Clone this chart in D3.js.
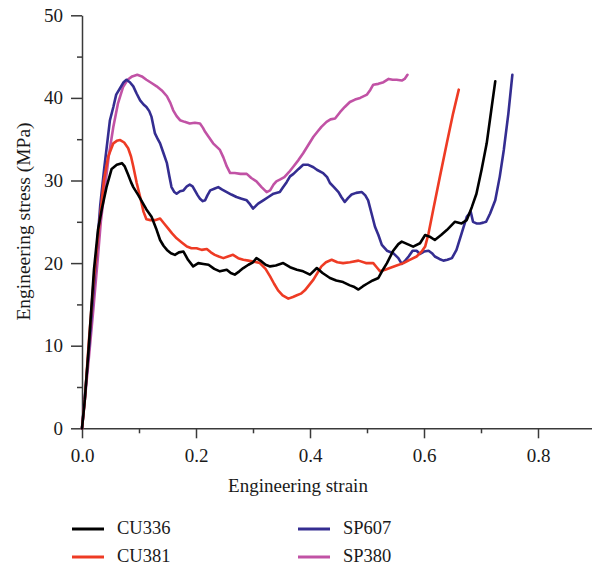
<!DOCTYPE html>
<html>
<head>
<meta charset="utf-8">
<script src="https://cdnjs.cloudflare.com/ajax/libs/d3/7.8.5/d3.min.js"></script>
<style>
  body { margin: 0; background: #fff; }
  svg { display: block; font-family: "Liberation Serif", "DejaVu Serif", serif; }
</style>
</head>
<body>
<svg id="chart" width="592" height="571"></svg>
<script>
// series names, colours and tick values
const seriesNames = ["CU336", "CU381", "SP607", "SP380"];
const seriesColors = ["#000000", "#ee3b24", "#342d91", "#c152a5"];
const xMajorTicks = [0, 0.2, 0.4, 0.6, 0.8];
const xMinorTicks = [0.1, 0.3, 0.5, 0.7];
const yMajorTicks = [0, 10, 20, 30, 40, 50];
const yMinorTicks = [5, 15, 25, 35, 45];

// [strain, stress MPa]
const cu336 = [[0,0],[0.005,3.5],[0.012,10],[0.021,19.2],[0.028,24],[0.035,26.6],[0.043,29.2],[0.052,31.4],[0.061,31.9],[0.07,32.1],[0.075,31.7],[0.081,30.7],[0.086,29.8],[0.09,29.2],[0.099,28.2],[0.108,27.1],[0.113,26.5],[0.122,25.6],[0.13,24.2],[0.137,22.8],[0.143,22.1],[0.149,21.6],[0.156,21.2],[0.163,21.0],[0.17,21.3],[0.178,21.4],[0.186,20.4],[0.195,19.6],[0.204,20.0],[0.213,19.9],[0.222,19.8],[0.232,19.3],[0.242,19.0],[0.254,19.2],[0.261,18.8],[0.268,18.6],[0.276,19.0],[0.283,19.4],[0.292,19.8],[0.30,20.1],[0.306,20.6],[0.315,20.2],[0.322,19.8],[0.33,19.6],[0.34,19.7],[0.353,20.0],[0.365,19.5],[0.377,19.2],[0.388,19.0],[0.40,18.6],[0.412,19.4],[0.422,18.8],[0.435,18.2],[0.446,17.9],[0.458,17.7],[0.47,17.3],[0.478,17.1],[0.485,16.8],[0.493,17.2],[0.50,17.5],[0.51,17.9],[0.52,18.2],[0.528,19.2],[0.535,20.0],[0.546,21.5],[0.555,22.3],[0.561,22.6],[0.571,22.3],[0.581,22.0],[0.593,22.4],[0.602,23.4],[0.61,23.2],[0.619,22.8],[0.63,23.4],[0.64,24.0],[0.654,25.0],[0.666,24.8],[0.675,25.2],[0.684,26.8],[0.692,28.4],[0.701,31.3],[0.71,34.5],[0.718,38.5],[0.725,42.0]];

const cu381 = [[0,0],[0.005,3.5],[0.012,10.5],[0.02,17.5],[0.027,22.5],[0.033,26.4],[0.0386,30.1],[0.046,32.9],[0.055,34.5],[0.061,34.8],[0.067,34.9],[0.074,34.6],[0.081,33.9],[0.086,32.9],[0.09,31.7],[0.096,29.7],[0.102,28.0],[0.108,26.2],[0.113,25.3],[0.12,25.2],[0.128,25.2],[0.137,25.4],[0.144,24.8],[0.151,24.2],[0.158,23.6],[0.166,23.0],[0.175,22.5],[0.184,22.0],[0.192,21.8],[0.201,21.8],[0.21,21.6],[0.219,21.7],[0.226,21.3],[0.233,21.0],[0.24,20.8],[0.248,20.6],[0.256,20.8],[0.265,21.0],[0.274,20.6],[0.283,20.4],[0.292,20.3],[0.30,20.2],[0.312,20.0],[0.322,19.3],[0.33,18.4],[0.337,17.5],[0.344,16.7],[0.352,16.1],[0.362,15.7],[0.37,15.9],[0.377,16.1],[0.384,16.3],[0.391,16.7],[0.398,17.3],[0.406,18.0],[0.413,18.8],[0.42,19.6],[0.428,20.1],[0.438,20.4],[0.448,20.1],[0.458,20.0],[0.47,20.1],[0.485,20.3],[0.498,20.0],[0.511,20.0],[0.517,19.5],[0.523,19.0],[0.532,19.2],[0.54,19.4],[0.552,19.7],[0.564,20.0],[0.575,20.4],[0.587,20.8],[0.596,21.4],[0.602,22.0],[0.608,23.6],[0.616,26.4],[0.628,30.5],[0.64,34.5],[0.651,38.1],[0.661,41.0]];

const sp607 = [[0,0],[0.005,3.8],[0.012,9.5],[0.02,16.5],[0.026,21.6],[0.032,27],[0.039,31.5],[0.049,37.3],[0.055,38.9],[0.06,40.4],[0.067,41.2],[0.073,41.9],[0.078,42.2],[0.084,41.9],[0.09,41.4],[0.096,40.5],[0.102,39.7],[0.108,39.2],[0.113,38.9],[0.118,38.4],[0.122,37.7],[0.128,35.7],[0.133,35.0],[0.137,34.5],[0.143,33.3],[0.149,32.1],[0.153,30.6],[0.157,29.2],[0.162,28.6],[0.166,28.4],[0.172,28.7],[0.178,28.8],[0.184,29.3],[0.189,29.5],[0.194,29.3],[0.198,28.8],[0.203,28.2],[0.207,27.8],[0.212,27.5],[0.216,27.6],[0.22,28.2],[0.225,28.8],[0.232,29.0],[0.239,29.2],[0.246,28.9],[0.254,28.6],[0.262,28.3],[0.271,28.0],[0.28,27.8],[0.289,27.6],[0.295,27.1],[0.30,26.6],[0.309,27.2],[0.318,27.6],[0.327,28.0],[0.336,28.4],[0.347,28.6],[0.353,29.2],[0.359,29.8],[0.365,30.5],[0.371,30.8],[0.38,31.4],[0.388,31.9],[0.397,31.9],[0.406,31.6],[0.412,31.3],[0.423,30.9],[0.43,30.4],[0.435,29.7],[0.442,29.2],[0.45,28.6],[0.455,28.0],[0.461,27.4],[0.467,27.9],[0.473,28.3],[0.481,28.5],[0.491,28.6],[0.497,28.2],[0.502,27.6],[0.508,26.0],[0.514,24.4],[0.52,23.4],[0.526,22.2],[0.535,21.5],[0.546,21.2],[0.555,20.6],[0.561,19.9],[0.567,20.3],[0.573,20.8],[0.58,21.5],[0.587,21.5],[0.593,21.1],[0.6,21.4],[0.608,21.5],[0.614,21.2],[0.619,20.8],[0.627,20.5],[0.634,20.3],[0.641,20.4],[0.649,20.6],[0.657,21.6],[0.666,23.6],[0.675,25.6],[0.682,26.2],[0.686,25.0],[0.692,24.8],[0.698,24.8],[0.704,24.9],[0.709,25.0],[0.716,26.0],[0.725,27.6],[0.733,30.5],[0.74,33.7],[0.748,38.1],[0.755,42.8]];

const sp380 = [[0,0],[0.005,3.5],[0.012,8.5],[0.02,14.5],[0.027,20],[0.033,25],[0.04,29],[0.047,33],[0.055,36.5],[0.063,39.3],[0.072,41.3],[0.08,42.2],[0.088,42.6],[0.097,42.8],[0.105,42.6],[0.113,42.2],[0.122,41.8],[0.131,41.4],[0.14,40.9],[0.149,40.2],[0.155,39.4],[0.16,38.5],[0.166,37.8],[0.172,37.3],[0.18,37.1],[0.189,36.9],[0.198,37.0],[0.207,36.9],[0.212,36.4],[0.216,35.9],[0.223,35.2],[0.23,34.5],[0.236,34.1],[0.242,33.7],[0.248,32.8],[0.254,31.7],[0.26,30.9],[0.268,30.9],[0.278,30.8],[0.289,30.8],[0.297,30.3],[0.306,29.9],[0.315,29.2],[0.324,28.6],[0.33,28.8],[0.336,29.5],[0.341,29.9],[0.347,30.1],[0.355,30.4],[0.363,31.0],[0.371,31.7],[0.38,32.5],[0.388,33.3],[0.397,34.3],[0.406,35.3],[0.413,35.9],[0.42,36.5],[0.429,37.1],[0.436,37.4],[0.444,37.5],[0.453,38.3],[0.461,38.9],[0.47,39.5],[0.479,39.8],[0.488,40.0],[0.5,40.4],[0.506,41.0],[0.511,41.6],[0.52,41.7],[0.529,41.9],[0.538,42.3],[0.545,42.2],[0.552,42.2],[0.561,42.1],[0.566,42.3],[0.571,42.8]];

const seriesData = [cu336, cu381, sp607, sp380];

function drawChart() {
  const svg = d3.select("#chart");
  const axisColor = "#3a3a3a";

  const x = d3.scaleLinear().domain([0, 0.9]).range([82, 595]);
  const y = d3.scaleLinear().domain([0, 50]).range([428.3, 15.3]);

  // y axis: minor then major ticks
  svg.append("g")
    .attr("transform", "translate(82,0)")
    .call(d3.axisLeft(y).tickValues(yMinorTicks).tickSize(5).tickFormat(""))
    .call(g => g.select(".domain").remove());
  const yAxis = svg.append("g")
    .attr("transform", "translate(82,0)")
    .call(d3.axisLeft(y).tickValues(yMajorTicks).tickSize(11).tickSizeOuter(0).tickPadding(8).tickFormat(d3.format("d")));

  // x axis
  svg.append("g")
    .attr("transform", "translate(0,428.3)")
    .call(d3.axisBottom(x).tickValues(xMinorTicks).tickSize(5).tickFormat(""))
    .call(g => g.select(".domain").remove());
  const xAxis = svg.append("g")
    .attr("transform", "translate(0,428.3)")
    .call(d3.axisBottom(x).tickValues(xMajorTicks).tickSize(10).tickSizeOuter(0).tickPadding(10).tickFormat(d3.format(".1f")));

  svg.selectAll(".domain, .tick line")
    .attr("stroke", axisColor)
    .attr("stroke-width", 1.5);
  svg.selectAll(".tick text")
    .attr("fill", "#1a1a1a")
    .style("font-family", "Liberation Serif, serif")
    .style("font-size", "19px");

  // curves
  const line = d3.line().x(d => x(d[0])).y(d => y(d[1]));
  const order = [3, 2, 1, 0];
  order.forEach(i => {
    svg.append("path")
      .datum(seriesData[i])
      .attr("fill", "none")
      .attr("stroke", seriesColors[i])
      .attr("stroke-width", 2.6)
      .attr("stroke-linejoin", "round")
      .attr("stroke-linecap", "round")
      .attr("d", line);
  });

  // axis titles
  svg.append("text")
    .attr("x", 298)
    .attr("y", 492)
    .attr("text-anchor", "middle")
    .attr("fill", "#1a1a1a")
    .style("font-size", "19px")
    .text("Engineering strain");

  svg.append("text")
    .attr("transform", "translate(30,221.5) rotate(-90)")
    .attr("text-anchor", "middle")
    .attr("fill", "#1a1a1a")
    .style("font-size", "19.5px")
    .text("Engineering stress (MPa)");

  // legend, two columns
  const legendPos = [[72, 529], [72, 557], [298, 529], [298, 557]];
  seriesNames.forEach((name, i) => {
    const g = svg.append("g").attr("transform", `translate(${legendPos[i][0]},${legendPos[i][1]})`);
    g.append("line")
      .attr("x1", 0).attr("x2", 32)
      .attr("y1", 0).attr("y2", 0)
      .attr("stroke", seriesColors[i])
      .attr("stroke-width", 3);
    g.append("text")
      .attr("x", 45)
      .attr("y", 5)
      .attr("fill", "#1a1a1a")
      .style("font-size", "18.5px")
      .text(name);
  });
}

drawChart();
</script>
</body>
</html>
